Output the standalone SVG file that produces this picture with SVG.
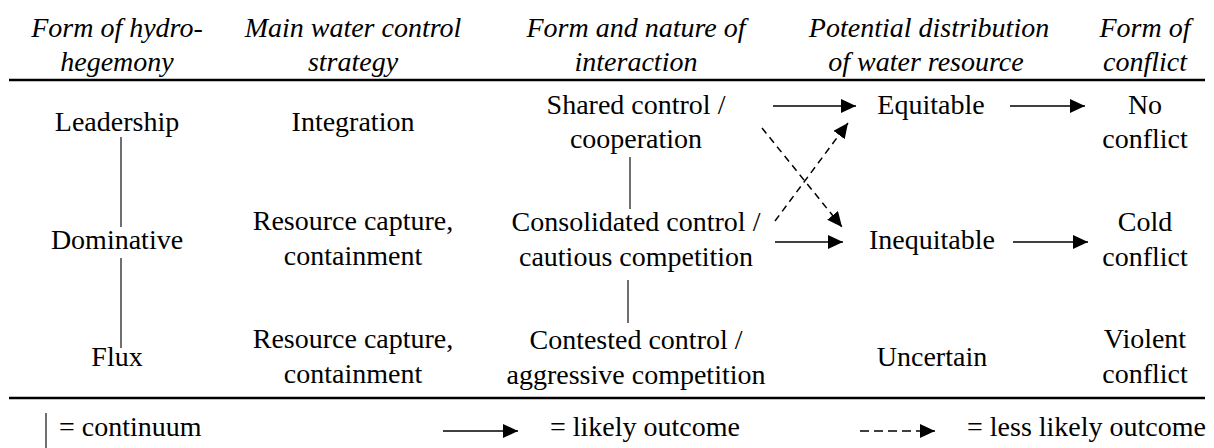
<svg xmlns="http://www.w3.org/2000/svg" width="1214" height="448" viewBox="0 0 1214 448">
<style>
text{font-family:"Liberation Serif","Times New Roman",serif;font-size:28px;fill:#000;text-anchor:middle}
.h{font-style:italic}
.l{text-anchor:start}
.rule{stroke:#000;stroke-width:2.5}
.cont{stroke:#222;stroke-width:1.3}
.arr{stroke:#000;stroke-width:1.5;fill:none;marker-end:url(#ah)}
.dash{stroke-dasharray:7 5}
</style>
<defs>
<marker id="ah" markerUnits="userSpaceOnUse" markerWidth="18" markerHeight="16" refX="15" refY="7" orient="auto">
<path d="M0,0 L15,7 L0,14 Z" fill="#000"/>
</marker>
</defs>
<rect width="1214" height="448" fill="#fff"/>
<g id="headers">
<text class="h" x="117" y="37">Form of hydro-</text>
<text class="h" x="117" y="71">hegemony</text>
<text class="h" x="353" y="37">Main water control</text>
<text class="h" x="353" y="71">strategy</text>
<text class="h" x="636" y="37">Form and nature of</text>
<text class="h" x="636" y="71">interaction</text>
<text class="h" x="929" y="37">Potential distribution</text>
<text class="h" x="926" y="71">of water resource</text>
<text class="h" x="1145" y="37">Form of</text>
<text class="h" x="1145" y="71">conflict</text>
</g>
<line class="rule" x1="9" y1="80" x2="1205" y2="80"/>
<line class="rule" x1="9" y1="398" x2="1205" y2="398"/>
<g id="leadership"><text x="117" y="131">Leadership</text></g>
<g id="dominative"><text x="117" y="249">Dominative</text></g>
<g id="flux"><text x="117" y="366">Flux</text></g>
<g id="integration"><text x="353" y="131">Integration</text></g>
<g id="capture1"><text x="353" y="230">Resource capture,</text><text x="353" y="265">containment</text></g>
<g id="capture2"><text x="353" y="348">Resource capture,</text><text x="353" y="383">containment</text></g>
<g id="shared"><text x="636" y="114">Shared control /</text><text x="636" y="148">cooperation</text></g>
<g id="consolidated"><text x="636" y="231">Consolidated control /</text><text x="636" y="266">cautious competition</text></g>
<g id="contested"><text x="636" y="349">Contested control /</text><text x="636" y="384">aggressive competition</text></g>
<g id="equitable"><text x="931" y="114">Equitable</text></g>
<g id="inequitable"><text x="932" y="249">Inequitable</text></g>
<g id="uncertain"><text x="932" y="366">Uncertain</text></g>
<g id="noconflict"><text x="1145" y="114">No</text><text x="1145" y="148">conflict</text></g>
<g id="coldconflict"><text x="1145" y="231">Cold</text><text x="1145" y="266">conflict</text></g>
<g id="violentconflict"><text x="1145" y="348">Violent</text><text x="1145" y="383">conflict</text></g>
<g id="connectors">
<line class="cont" x1="121" y1="137" x2="121" y2="227"/>
<line class="cont" x1="121" y1="258" x2="121" y2="348"/>
<line class="cont" x1="630" y1="157" x2="630" y2="209"/>
<line class="cont" x1="628" y1="280" x2="628" y2="323"/>
<line class="arr" x1="773" y1="106" x2="856" y2="106"/>
<line class="arr" x1="1010" y1="106" x2="1085" y2="106"/>
<line class="arr" x1="775" y1="242" x2="843" y2="242"/>
<line class="arr" x1="1013" y1="242" x2="1088" y2="242"/>
<line class="arr dash" x1="762" y1="128" x2="842" y2="227"/>
<line class="arr dash" x1="775" y1="221" x2="848" y2="123"/>
</g>
<g id="legend">
<line class="cont" x1="46" y1="413" x2="46" y2="448"/>
<text class="l" x="59" y="436">= continuum</text>
<line class="arr" x1="443" y1="431" x2="518" y2="431"/>
<text class="l" x="550" y="436">= likely outcome</text>
<line class="arr" x1="860" y1="431" x2="935" y2="431" style="stroke-dasharray:9 5"/>
<text class="l" x="967" y="436">= less likely outcome</text>
</g>
</svg>
